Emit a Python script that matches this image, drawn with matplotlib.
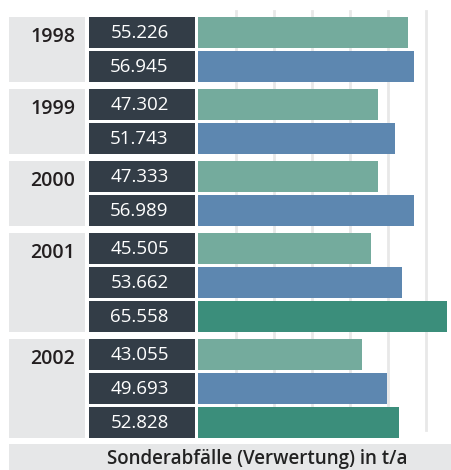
import matplotlib.pyplot as plt
from matplotlib.patches import Rectangle

# -----------------------------
# data
# -----------------------------
years = ["1998", "1999", "2000", "2001", "2002"]
values = [
    [55.226, 56.945],
    [47.302, 51.743],
    [47.333, 56.989],
    [45.505, 53.662, 65.558],
    [43.055, 49.693, 52.828],
]
value_labels = [
    ["55.226", "56.945"],
    ["47.302", "51.743"],
    ["47.333", "56.989"],
    ["45.505", "53.662", "65.558"],
    ["43.055", "49.693", "52.828"],
]
grid_values = [10, 20, 30, 40, 50, 60]
xlabel = "Sonderabfälle (Verwertung) in t/a"

colors = ["#74ab9d", "#5d87b0", "#3b8e7b"]
box_gray = "#e6e7e8"
box_dark = "#333d47"

plt.rcParams['font.family'] = ['Open Sans', 'DejaVu Sans']

W, H = 452, 470
fig = plt.figure(figsize=(W / 100, H / 100), dpi=100)

# background axes in pixel coordinates (label boxes)
bg = fig.add_axes([0, 0, 1, 1])
bg.set_xlim(0, W)
bg.set_ylim(H, 0)
bg.axis('off')

# bar axes: zero at x=198.5 px, 3.79 px per unit
x0, scale = 198.5, 3.79
ax = fig.add_axes([x0 / W, 0, (W - x0) / W, 1])
ax.set_xlim(0, (W - x0) / scale)
ax.set_ylim(H, 0)
ax.axis('off')

# row layout
row_h, row_step, group_gap, top = 31, 34, 7, 17
y = top
for gi, year in enumerate(years):
    g_top = y
    n = len(values[gi])
    g_bot = g_top + (n - 1) * row_step + row_h
    bg.add_patch(Rectangle((9, g_top), 76, g_bot - g_top, color=box_gray, lw=0))
    bg.text(75, g_top + 20, year, ha='right', va='center', fontsize=14,
            fontweight='semibold', color='#231f20')
    for i in range(n):
        ry = g_top + i * row_step
        bg.add_patch(Rectangle((89, ry), 106, row_h, color=box_dark, lw=0))
        bg.text(139.5, ry + row_h / 2 + 0.5, value_labels[gi][i], ha='center', va='center',
                fontsize=13.5, color='white')
        ax.barh(ry + row_h / 2, values[gi][i], height=row_h, left=0,
                color=colors[i], zorder=2)
    y = g_bot + group_gap

# gridlines
for gv in grid_values:
    ax.axvline(gv, ymin=1 - 430 / H, ymax=1 - 11 / H, color='#e8e8e8', lw=2, zorder=1)

# bottom label box
bg.add_patch(Rectangle((9, 444), W - 9, 30, color=box_gray, lw=0))
bg.text(257, 459, xlabel, ha='center', va='center', fontsize=13.5,
        fontweight='semibold', color='#222222')

fig.savefig("out.png", dpi=100)
